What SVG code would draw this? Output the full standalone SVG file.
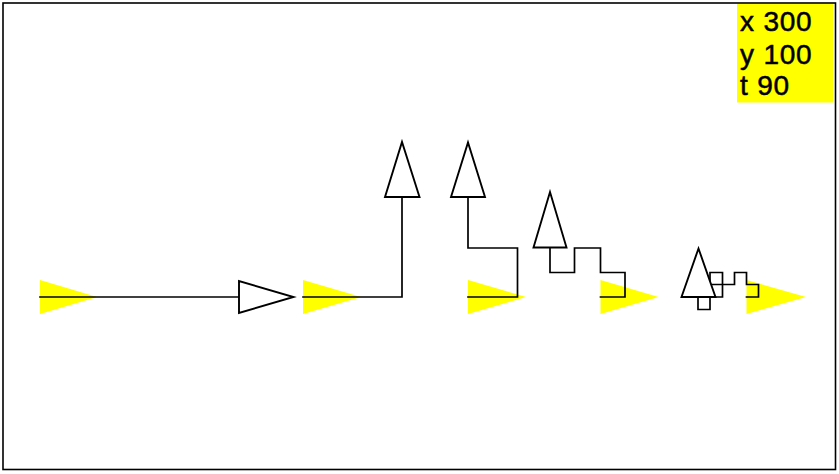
<svg xmlns="http://www.w3.org/2000/svg" width="839" height="474" viewBox="0 0 839 474">
<style>
.frame{fill:#ffffff;stroke:#000000;stroke-width:1.6}
.start{fill:#ffff00;stroke:none}
.turtle{fill:#ffffff;stroke:#000000;stroke-width:1.9;stroke-linejoin:miter}
.trail{fill:none;stroke:#000000;stroke-width:1.7;stroke-linejoin:miter;stroke-linecap:square}
.info{fill:#ffff00}
.label{font-family:"Liberation Sans",Arial,sans-serif;font-size:28px;letter-spacing:0.8px;fill:#000000;stroke:#000000;stroke-width:0.5}
</style>
<rect class="frame" x="3" y="3" width="832.5" height="466.5"/>
<g id="info-box">
<rect class="info" x="737" y="4" width="96" height="98.5"/>
<text class="label" x="740" y="31">x 300</text>
<text class="label" x="740" y="63.5">y 100</text>
<text class="label" x="740" y="95">t 90</text>
</g>
<g id="start-markers">
<polygon id="start-1" class="start" points="40,280 40,314 97,297"/>
<polygon id="start-2" class="start" points="303,280 303,314 361,297"/>
<polygon id="start-3" class="start" points="468,280 468,314 526,297"/>
<polygon id="start-4" class="start" points="600.5,280 600.5,314 658.5,297"/>
<polygon id="start-5" class="start" points="746.5,280 746.5,314 806,297"/>
</g>
<g id="connectors">
<path class="trail" d="M40,297 H239"/>
<path class="trail" d="M303,297 H402 V197"/>
<path class="trail" d="M468,297 H517.5 V248 H468 V197"/>
<path class="trail" d="M600.5,297 H625 V272.5 H600.5 V248 H574.5 V272.5 H550 V247.5"/>
<path class="trail" d="M746.5,297 H758.5 V284.5 H746.5 V272.5 H734.5 V284.5 H722.5 V272.5 H710 V284.5 H722.5 V297 H710 V309.5 H698 V297"/>
</g>
<g id="turtle-1"><polygon class="turtle" points="239,281 239,313 293.5,297"/></g>
<g id="turtle-2"><polygon class="turtle" points="385,197 419.5,197 402,142"/></g>
<g id="turtle-3"><polygon class="turtle" points="451,197 485,197 468,142.5"/></g>
<g id="turtle-4"><polygon class="turtle" points="533.5,247.5 566.5,247.5 550,192"/></g>
<g id="turtle-5"><polygon class="turtle" points="681.5,297 715.5,297 698.5,248.5"/></g>
</svg>
